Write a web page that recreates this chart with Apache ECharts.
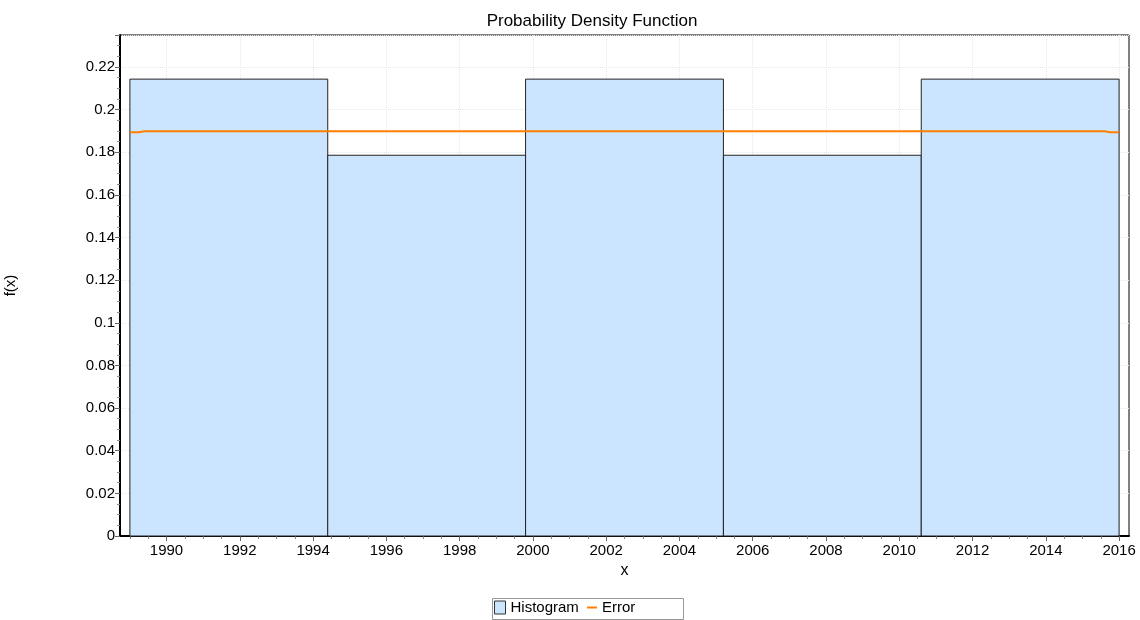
<!DOCTYPE html>
<html>
<head>
<meta charset="utf-8">
<script src="https://cdn.jsdelivr.net/npm/echarts@6/dist/echarts.min.js"></script>
<style>html,body{margin:0;padding:0;background:#fff}#c{width:1140px;height:620px}</style>
</head>
<body>
<div id="c"></div>
<script>
// Histogram bins: [start, end] and density values
const binStarts = [1989, 1994.4, 1999.8, 2005.2, 2010.6];
const binEnds   = [1994.4, 1999.8, 2005.2, 2010.6, 2016];
const binValues = [0.2143, 0.1786, 0.2143, 0.1786, 0.2143];
// Error curve points (x, y)
const errorX = [1989, 1989.25, 1989.4, 1995, 2000, 2005, 2010, 2015.6, 2015.75, 2016];
const errorY = [0.1894, 0.1894, 0.1899, 0.1899, 0.1899, 0.1899, 0.1899, 0.1899, 0.1894, 0.1894];
// Tick labels
const xMajorTicks = [1990, 1992, 1994, 1996, 1998, 2000, 2002, 2004, 2006, 2008, 2010, 2012, 2014, 2016];
const xMinorTicks = [];
for (let v = 1989; v <= 2016; v += 0.5) { if (xMajorTicks.indexOf(v) < 0) xMinorTicks.push(v); }

const font = 'Liberation Sans, Arial, sans-serif';
const chart = echarts.init(document.getElementById('c'), null, {renderer: 'canvas'});

const histData = binStarts.map((s, i) => [s, binEnds[i], binValues[i]]);
const errData = errorX.map((x, i) => [x, errorY[i]]);

chart.setOption({
  animation: false,
  backgroundColor: '#fff',
  textStyle: {fontFamily: font},
  title: {
    text: 'Probability Density Function',
    left: 587, top: 8, textAlign: 'center',
    textStyle: {fontFamily: font, fontSize: 17, fontWeight: 'normal', color: '#000'}
  },
  grid: {left: 120, right: 11, top: 35, bottom: 84, show: true, borderColor: '#000', borderWidth: 1,
    containLabel: false, outerBoundsMode: 'none'},
  legend: [
    {
      data: [{name: 'Histogram', icon: 'rect'}],
      left: 494, top: 600, itemWidth: 11, itemHeight: 13, itemGap: 4,
      itemStyle: {borderWidth: 1, borderColor: '#333'},
      textStyle: {fontFamily: font, fontSize: 15, color: '#000', padding: [0, 0, 0, 0]},
      padding: 0
    },
    {
      data: [{name: 'Error', icon: 'rect'}],
      left: 587, top: 600, itemWidth: 10, itemHeight: 2,
      textStyle: {fontFamily: font, fontSize: 15, color: '#000', padding: [0, 0, 0, 0]},
      padding: 0
    }
  ],
  graphic: [{
    type: 'rect', left: 490, top: 596,
    shape: {width: 191, height: 21},
    style: {fill: 'none', stroke: '#999', lineWidth: 1}, z: -1
  }],
  xAxis: [
    {
      type: 'value', min: 1988.73, max: 2016.27, minInterval: 2, maxInterval: 2,
      name: 'x', nameLocation: 'middle', nameGap: 25,
      nameTextStyle: {fontFamily: font, fontSize: 16, color: '#000'},
      axisLine: {show: true, onZero: false, lineStyle: {color: '#000', width: 2}},
      axisTick: {show: true, customValues: xMajorTicks, length: 5, inside: false, lineStyle: {color: '#666'}},
      axisLabel: {customValues: xMajorTicks, fontFamily: font, fontSize: 15, color: '#000', margin: 7,
        formatter: v => String(Math.round(v))},
      splitLine: {show: true, lineStyle: {color: '#e8e8e8', type: 'dotted'}}
    },
    {
      type: 'value', min: 1988.73, max: 2016.27, position: 'bottom',
      axisLine: {show: false},
      axisTick: {show: true, customValues: xMinorTicks, length: 3, lineStyle: {color: '#888'}},
      axisLabel: {show: false},
      splitLine: {show: false}
    }
  ],
  yAxis: {
    type: 'value', min: 0, max: 0.235, interval: 0.02,
    name: 'f(x)', nameLocation: 'middle', nameGap: 102, nameRotate: 90,
    nameTextStyle: {fontFamily: font, fontSize: 15, color: '#000'},
    axisLine: {show: true, onZero: false, lineStyle: {color: '#000', width: 2}},
    axisTick: {show: true, length: 5, lineStyle: {color: '#666'}},
    minorTick: {show: true, splitNumber: 4, length: 3, lineStyle: {color: '#888'}},
    axisLabel: {fontFamily: font, fontSize: 15, color: '#000', margin: 5,
      formatter: v => (v > 0.23 ? '' : String(Math.round(v * 100) / 100))},
    splitLine: {show: true, lineStyle: {color: '#e8e8e8', type: 'dotted'}}
  },
  series: [
    {
      name: 'Histogram', type: 'custom', xAxisIndex: 0,
      itemStyle: {color: '#cce5ff', borderColor: '#222', borderWidth: 1},
      encode: {x: [0, 1], y: 2},
      renderItem: function (params, api) {
        const p0 = api.coord([api.value(0), api.value(2)]);
        const p1 = api.coord([api.value(1), 0]);
        return {
          type: 'rect',
          shape: {x: p0[0], y: p0[1], width: p1[0] - p0[0], height: p1[1] - p0[1]},
          style: {fill: '#cce5ff', stroke: '#222', lineWidth: 1}
        };
      },
      data: histData, z: 2
    },
    {
      name: 'Error', type: 'line', xAxisIndex: 0, showSymbol: false, symbol: 'none',
      lineStyle: {color: '#ff8000', width: 2}, itemStyle: {color: '#ff8000'},
      data: errData, z: 3
    }
  ]
});
</script>
</body>
</html>
